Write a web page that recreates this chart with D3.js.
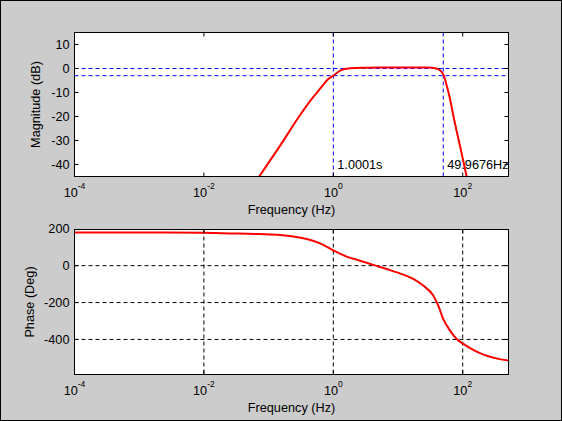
<!DOCTYPE html>
<html>
<head>
<meta charset="utf-8">
<script src="https://cdn.jsdelivr.net/npm/d3@7"></script>
<style>
body { margin: 0; background: #cccccc; }
svg { display: block; }
text { font-family: "Liberation Sans", Arial, sans-serif; fill: #000; }
</style>
</head>
<body>
<div id="chart"></div>
<script>
// x ticks (Hz) shared by both plots
const xTicks = [1e-4, 1e-2, 1, 1e2];

// magnitude response (Hz, dB)
const magFreq = [0.056, 0.072, 0.156, 0.305, 0.437, 0.622, 0.838, 1.0, 1.27, 1.81, 3.16, 4.95,
    10, 27.7, 39.4, 47.2, 51.2, 56.4, 63.4, 71.4, 93.8, 115, 141];
const magDb = [-49.2, -44.9, -31.5, -19.5, -13.6, -8.5, -4.4, -3.0, -0.9, 0.1, 0.3, 0.4,
    0.4, 0.4, 0.0, -1.4, -3.1, -7.0, -12.5, -19.5, -34.0, -45.0, -56.0];
const magTicks = [-40, -30, -20, -10, 0, 10];

// -3 dB markers
const refLevels = [0, -3];
const cutoffs = [1.0001, 49.9676];
const cutoffLabels = ['1.0001s', '49.9676Hz'];

// phase response (Hz, deg)
const phaseFreq = [1e-4, 1e-3, 1e-2, 0.02, 0.0736, 0.15, 0.241, 0.388, 0.622, 1, 1.61, 2.58,
    4.15, 6.67, 10.7, 17.2, 24.5, 35, 41.8, 49.9, 63.4, 85.1, 98.2, 150, 242, 388, 510];
const phaseDeg = [180, 180, 179, 176, 171, 166, 158, 144, 121, 83, 49, 27,
    4, -18, -42, -72, -108, -162, -216, -288, -351, -405, -420, -459, -490, -508, -514];
const phaseTicks = [-400, -200, 0, 200];

const width = 562;
const height = 421;
const plotLeft = 74.5;
const plotRight = 508.5;
const fontSize = 12.7;

const svg = d3.select('#chart').append('svg')
    .attr('width', width)
    .attr('height', height);

// figure frame
svg.append('rect')
    .attr('x', 0.5).attr('y', 0.5)
    .attr('width', width - 1).attr('height', height - 1)
    .attr('fill', '#cccccc')
    .attr('stroke', '#000');

const xScale = d3.scaleLog()
    .domain([1e-4, 510])
    .range([plotLeft, plotRight]);

function drawPanel(opts) {
    const { top, bottom, yScale, yTicks, yLabel, yLabelX, id } = opts;
    const g = svg.append('g');

    g.append('rect')
        .attr('x', plotLeft).attr('y', top)
        .attr('width', plotRight - plotLeft).attr('height', bottom - top)
        .attr('fill', '#fff');

    g.append('clipPath').attr('id', id)
        .append('rect')
        .attr('x', plotLeft).attr('y', top)
        .attr('width', plotRight - plotLeft).attr('height', bottom - top);

    const inner = g.append('g').attr('clip-path', `url(#${id})`);

    // ticks on all four sides, pointing in
    const axes = [
        [d3.axisBottom(xScale).tickValues(xTicks), `translate(0,${bottom})`],
        [d3.axisTop(xScale).tickValues(xTicks), `translate(0,${top})`],
        [d3.axisLeft(yScale).tickValues(yTicks.filter(v => yScale(v) >= top)), `translate(${plotLeft},0)`],
        [d3.axisRight(yScale).tickValues(yTicks.filter(v => yScale(v) >= top)), `translate(${plotRight},0)`],
    ];
    axes.forEach(([axis, tr]) => {
        const a = g.append('g')
            .attr('transform', tr)
            .call(axis.tickSize(-4).tickSizeOuter(0).tickFormat('').offset(0));
        a.select('.domain').remove();
    });

    // y tick labels
    g.selectAll('.ylab')
        .data(yTicks)
        .join('text')
        .attr('x', plotLeft - 5)
        .attr('y', (d) => yScale(d))
        .attr('dy', '0.35em')
        .attr('text-anchor', 'end')
        .style('font-size', fontSize + 'px')
        .text((d) => d);

    // x tick labels as 10^n
    const xl = g.selectAll('.xlab')
        .data(xTicks)
        .join('text')
        .attr('x', (d) => xScale(d))
        .attr('y', bottom + 20)
        .attr('text-anchor', 'middle')
        .style('font-size', fontSize + 'px');
    xl.append('tspan').text('10');
    xl.append('tspan')
        .attr('dy', -8)
        .style('font-size', '8.5px')
        .text((d) => Math.round(Math.log10(d)));

    g.append('text')
        .attr('x', (plotLeft + plotRight) / 2)
        .attr('y', bottom + 37.5)
        .attr('text-anchor', 'middle')
        .style('font-size', fontSize + 'px')
        .text('Frequency (Hz)');

    g.append('text')
        .attr('transform', `translate(${yLabelX},${(top + bottom) / 2}) rotate(-90)`)
        .attr('text-anchor', 'middle')
        .style('font-size', fontSize + 'px')
        .text(yLabel);

    return { g, inner };
}

const line = (x, y) => d3.line()
    .x((d) => x(d[0]))
    .y((d) => y(d[1]))
    .curve(d3.curveMonotoneX);

// ---- magnitude ----
const magTop = 32.5, magBottom = 176.5;
const yMag = d3.scaleLinear().domain([-45, 15]).range([magBottom, magTop]);
const mag = drawPanel({
    top: magTop, bottom: magBottom, yScale: yMag, yTicks: magTicks,
    yLabel: 'Magnitude (dB)', yLabelX: 40, id: 'clip-mag'
});

mag.inner.selectAll('.ref')
    .data(refLevels)
    .join('line')
    .attr('x1', plotLeft).attr('x2', plotRight)
    .attr('y1', (d) => yMag(d)).attr('y2', (d) => yMag(d))
    .attr('stroke', '#0000ff')
    .attr('stroke-dasharray', '4,3');

mag.inner.selectAll('.cut')
    .data(cutoffs)
    .join('line')
    .attr('x1', (d) => xScale(d)).attr('x2', (d) => xScale(d))
    .attr('y1', magTop).attr('y2', magBottom)
    .attr('stroke', '#0000ff')
    .attr('stroke-dasharray', '4,3');

mag.inner.append('path')
    .datum(d3.zip(magFreq, magDb))
    .attr('d', line(xScale, yMag))
    .attr('fill', 'none')
    .attr('stroke', '#ff0000')
    .attr('stroke-width', 2);

mag.g.selectAll('.cutlab')
    .data(cutoffs)
    .join('text')
    .attr('x', (d) => xScale(d) + 4)
    .attr('y', yMag(-40))
    .attr('dy', '0.35em')
    .style('font-size', fontSize + 'px')
    .text((d, i) => cutoffLabels[i]);

mag.g.append('rect')
    .attr('x', plotLeft).attr('y', magTop)
    .attr('width', plotRight - plotLeft).attr('height', magBottom - magTop)
    .attr('fill', 'none').attr('stroke', '#000');

// ---- phase ----
const phTop = 229.5, phBottom = 374.5;
const yPhase = d3.scaleLinear().domain([-590, 196]).range([phBottom, phTop]);
const ph = drawPanel({
    top: phTop, bottom: phBottom, yScale: yPhase, yTicks: phaseTicks,
    yLabel: 'Phase (Deg)', yLabelX: 33.5, id: 'clip-ph'
});

ph.inner.selectAll('.gx')
    .data(xTicks)
    .join('line')
    .attr('x1', (d) => xScale(d)).attr('x2', (d) => xScale(d))
    .attr('y1', phTop).attr('y2', phBottom)
    .attr('stroke', '#000')
    .attr('stroke-dasharray', '4,3');

ph.inner.selectAll('.gy')
    .data(phaseTicks)
    .join('line')
    .attr('x1', plotLeft).attr('x2', plotRight)
    .attr('y1', (d) => yPhase(d)).attr('y2', (d) => yPhase(d))
    .attr('stroke', '#000')
    .attr('stroke-dasharray', '4,3');

ph.inner.append('path')
    .datum(d3.zip(phaseFreq, phaseDeg))
    .attr('d', line(xScale, yPhase))
    .attr('fill', 'none')
    .attr('stroke', '#ff0000')
    .attr('stroke-width', 2);

ph.g.append('rect')
    .attr('x', plotLeft).attr('y', phTop)
    .attr('width', plotRight - plotLeft).attr('height', phBottom - phTop)
    .attr('fill', 'none').attr('stroke', '#000');
</script>
</body>
</html>
